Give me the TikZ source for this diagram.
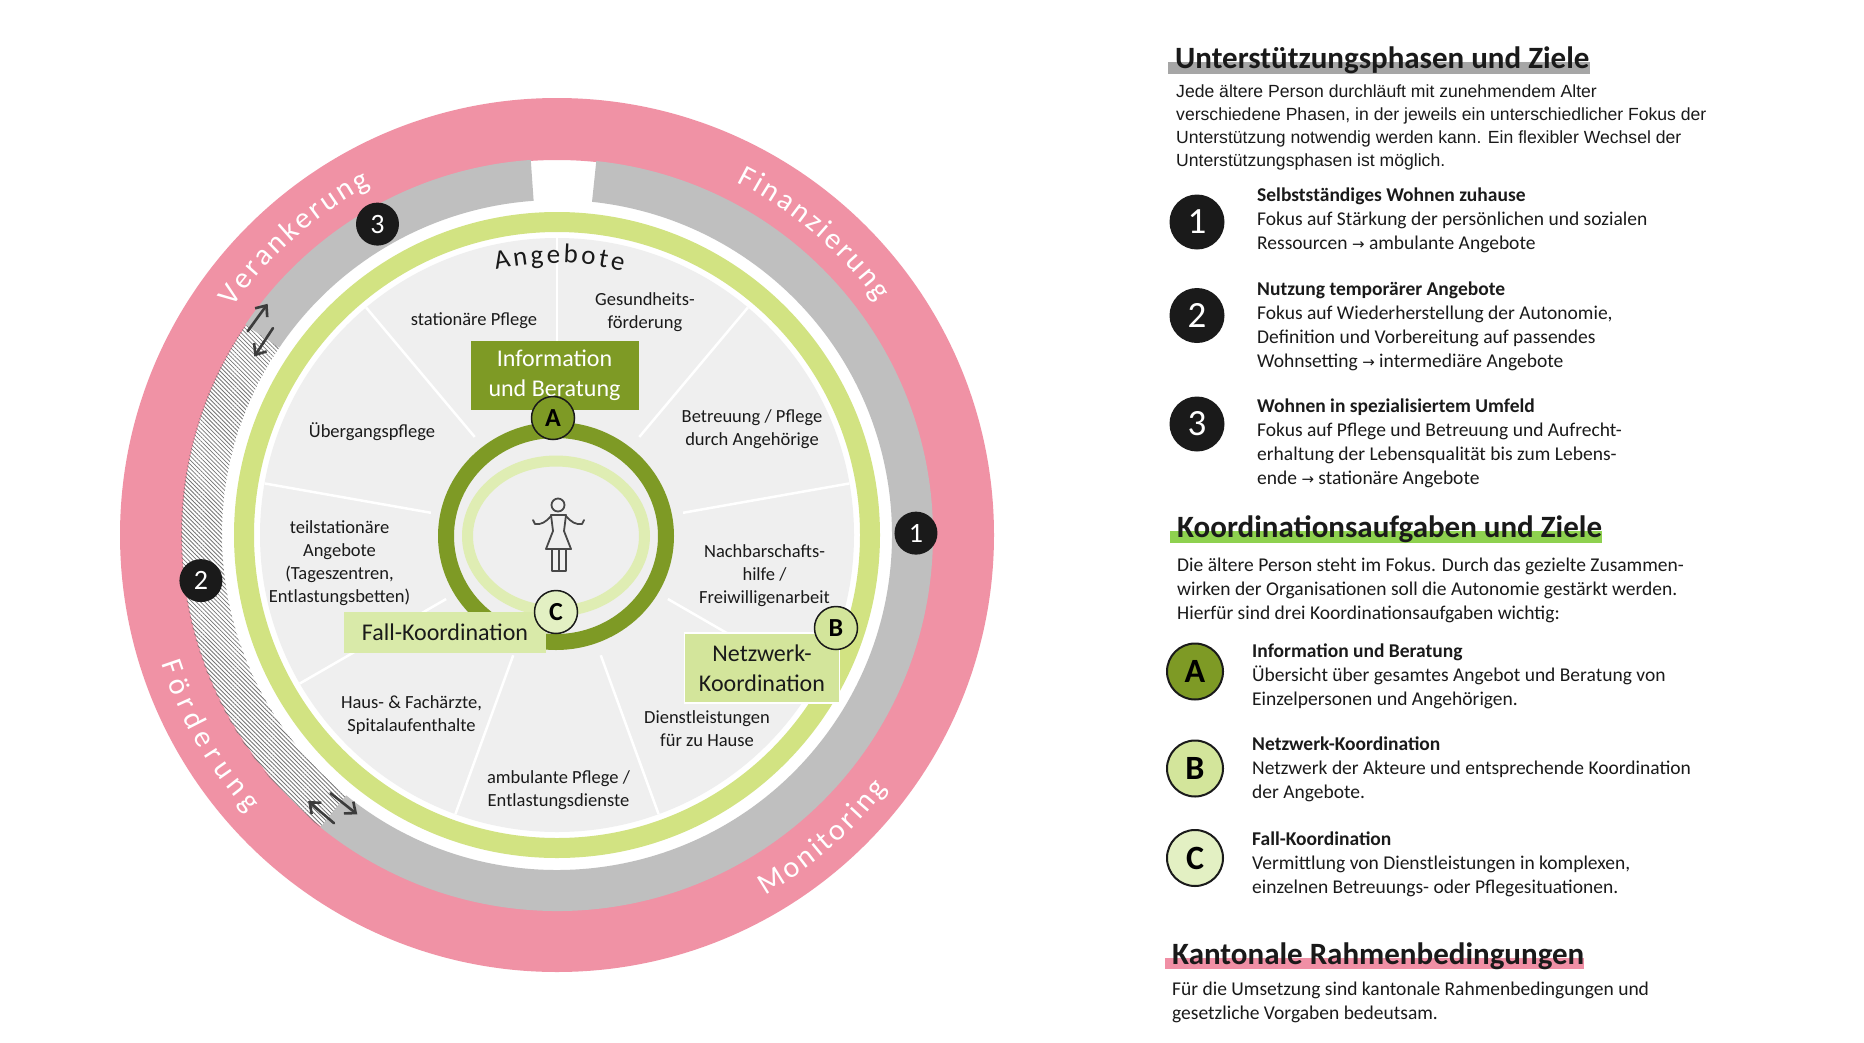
\documentclass[tikz,border=0pt]{standalone}
\usepackage{fontspec}
\setmainfont{Carlito}
\newfontfamily\arialf{Liberation Sans}
\newfontfamily\dejavuf{DejaVu Sans}
\usetikzlibrary{calc,decorations.text,patterns.meta,arrows.meta}
\pgfdeclarelayer{bg}
\pgfsetlayers{bg,main}
\definecolor{pinkC}{HTML}{F092A5}
\definecolor{bandC}{HTML}{BFBFBF}
\definecolor{ringC}{HTML}{D2E382}
\definecolor{oliveC}{HTML}{7E9A25}
\definecolor{ellC}{HTML}{DFEDB3}
\definecolor{diskC}{HTML}{EFEFEF}
\definecolor{fallC}{HTML}{D9EAA9}
\definecolor{netzC}{HTML}{D3E59B}
\definecolor{cC}{HTML}{E3F0C3}
\definecolor{barGray}{HTML}{A6A6A6}
\definecolor{barGreen}{HTML}{8ED14F}
\definecolor{barPink}{HTML}{F08FA5}
\definecolor{inkC}{HTML}{1A1A1A}
\newcommand\annsec[5]{\fill[#1] ($(c)+(#2:#5)$) arc[start angle=#2,end angle=#3,radius=#5] -- ($(c)+(#3:#4)$) arc[start angle=#3,end angle=#2,radius=#4] -- cycle;}
\newcommand\arrowr{{\dejavuf\fontsize{15}{15}\selectfont →}}
\newcommand\bodyf{\fontsize{19.5}{24}\selectfont}
\newcommand\ringfont{\fontsize{30}{30}\selectfont\color{white}}
\newcommand\angfont{\fontsize{27}{27}\selectfont\color{inkC}}
\tikzset{
 sector/.style={font=\fontsize{18.5}{23}\selectfont, align=center, inner sep=0, text=inkC},
 numdot/.style={circle, fill=inkC, text=white, minimum size=43, inner sep=0, font=\fontsize{28}{28}\selectfont},
 letdot/.style={circle, draw=inkC, line width=1.5, minimum size=43, inner sep=0, font=\bfseries\fontsize{26}{26}\selectfont},
 bignum/.style={circle, fill=inkC, text=white, minimum size=55, inner sep=0, font=\fontsize{37}{37}\selectfont},
 biglet/.style={circle, draw=inkC, line width=2, minimum size=56, inner sep=0, font=\bfseries\fontsize{34}{34}\selectfont},
 swaparrow/.style={draw=inkC!85, line width=2.6, line cap=round, -{Straight Barb[length=9pt,width=15pt,line width=2.6pt]}},
 person/.style={draw=inkC!80, line width=1.8, line join=round, line cap=round},
 txt/.style={anchor=base west, inner sep=0, text=inkC},
 boxlbl/.style={inner sep=0, align=center, font=\fontsize{24}{30}\selectfont},
 headf/.style={txt, font=\bfseries\fontsize{31}{36}\selectfont},
 bodyn/.style={txt, font=\bodyf}
}
\begin{document}
\begin{tikzpicture}[x=1pt,y=1pt]
\useasboundingbox (0,0) rectangle (1864,-1042);
\begin{pgfonlayer}{bg}
\fill[white] (0,0) rectangle (1864,-1042);
\end{pgfonlayer}
\coordinate (c) at (557,-535);
\coordinate (ci) at (556,-536);
% outer pink ring
\draw[pinkC, line width=62] (c) circle[radius=406];
% grey band with hatched part
\annsec{bandC}{84}{-129}{335}{376}
\annsec{bandC}{146}{94}{335}{376}
\annsec{pattern={Lines[angle=-45,distance=3pt,line width=0.8pt]},pattern color=inkC!60}{146}{231}{335}{376}
% green ring and disk
\draw[ringC, line width=20] (c) circle[radius=313];
\fill[diskC] (c) circle[radius=297];
\foreach \a in {10,50,...,330}
  \draw[white, line width=2.5] ($(c)+(\a:128)$) -- ($(c)+(\a:297)$);
% inner rings
\draw[ellC, line width=11] (ci) ellipse[x radius=88.5, y radius=75];
\draw[oliveC, line width=16] (ci) ellipse[x radius=110, y radius=106];
% sector labels
\node[sector] (s1) at (474,-321) {station\"are Pflege};
\node[sector] (s2) at (645,-312) {Gesundheits-\\f\"orderung};
\node[sector] (s3) at (372,-432) {\"Ubergangspflege};
\node[sector] (s4) at (752,-429) {Betreuung / Pflege\\durch Angeh\"orige};
\node[sector] (s5) at (339.5,-563) {teilstation\"are\\Angebote\\(Tageszentren,\\Entlastungsbetten)};
\node[sector] (s6) at (764.5,-576) {Nachbarschafts-\\hilfe /\\Freiwilligenarbeit};
\node[sector] (s7) at (411.5,-715) {Haus- \& Fach\"arzte,\\Spitalaufenthalte};
\node[sector] (s8) at (707,-729) {Dienstleistungen\\f\"ur zu Hause};
\node[sector] (s9) at (558.5,-790) {ambulante Pflege /\\Entlastungsdienste};
\path[decorate, decoration={text along path, text align=fit to path, text={|\angfont|Angebote}}]
  ($(c)+(103:272)$) arc[start angle=103, end angle=76, radius=272];
% boxes
\node[boxlbl, fill=oliveC, text=white, minimum width=168, minimum height=69] (ib) at (554.5,-375) {Information\\und Beratung};
\node[boxlbl, fill=fallC, text=inkC, minimum width=202, minimum height=41] (fk) at (445,-632.5) {Fall-Koordination};
\node[boxlbl, fill=netzC, draw=white, line width=1.2, text=inkC, minimum width=155, minimum height=70] (nk) at (762,-668) {Netzwerk-\\Koordination};
\node[letdot, fill=oliveC] (la) at (553,-418) {A};
\node[letdot, fill=cC] (lc) at (556,-612) {C};
\node[letdot, fill=netzC] (lb) at (836,-628) {B};
% person
\draw[person] (558,-505) circle[radius=6.5];
\draw[person] (551,-515) -- (566,-515) -- (564,-531) -- (571,-549) -- (546,-549) -- (553,-531) -- cycle;
\draw[person] (551,-516) .. controls (546,-522) and (541,-525) .. (535,-524) -- (533,-520);
\draw[person] (566,-516) .. controls (571,-522) and (576,-525) .. (582,-524) -- (584,-520);
\draw[person] (552,-549) rectangle (566,-571);
\draw[person] (559,-549) -- (559,-571);
% phase numbers on the band
\node[numdot] (n1) at ($(c)+(0.3:359)$) {1};
\node[numdot] (n2) at ($(c)+(187.3:359)$) {2};
\node[numdot] (n3) at ($(c)+(120:359)$) {3};
% swap arrows
\coordinate (ua) at ($(c)+(144:370)$);
\coordinate (ub) at ($(c)+(146.7:351)$);
\coordinate (la1) at ($(c)+(229.6:364)$);
\coordinate (lb1) at ($(c)+(231.6:343)$);
\draw[swaparrow] ($(ua)+(234:17)$) -- ($(ua)+(54:17)$);
\draw[swaparrow] ($(ub)+(56.7:17)$) -- ($(ub)+(236.7:17)$);
\draw[swaparrow] ($(la1)+(319.6:17)$) -- ($(la1)+(139.6:17)$);
\draw[swaparrow] ($(lb1)+(141.6:17)$) -- ($(lb1)+(321.6:17)$);
% ring labels
\path[decorate, decoration={text along path, text align=fit to path, text={|\ringfont|Verankerung}}]
  ($(c)+(145:396)$) arc[start angle=145, end angle=118, radius=396];
\path[decorate, decoration={text along path, text align=fit to path, text={|\ringfont|Finanzierung}}]
  ($(c)+(63:396)$) arc[start angle=63, end angle=36, radius=396];
\path[decorate, decoration={text along path, text align=fit to path, text={|\ringfont|Förderung}}]
  ($(c)+(198:416)$) arc[start angle=198, end angle=222, radius=416];
\path[decorate, decoration={text along path, text align=fit to path, text={|\ringfont|Monitoring}}]
  ($(c)+(300:416)$) arc[start angle=300, end angle=322.5, radius=416];
% ---------- right panel ----------
\node[headf] (h1) at (1175,-68) {Unterstützungsphasen und Ziele};
\node[txt, font=\arialf\fontsize{17.6}{23}\selectfont] (p1) at (1176,-97) {\begin{tabular}[t]{@{}l@{}}Jede ältere Person durchläuft mit zunehmendem Alter\\verschiedene Phasen, in der jeweils ein unterschiedlicher Fokus der\\Unterstützung notwendig werden kann. Ein flexibler Wechsel der\\Unterstützungsphasen ist möglich.\end{tabular}};
\node[bignum] (k1) at (1197,-222) {1};
\node[bignum] (k2) at (1197,-315.5) {2};
\node[bignum] (k3) at (1197,-424) {3};
\node[bodyn] (i1) at (1257,-201) {\begin{tabular}[t]{@{}l@{}}\textbf{Selbstständiges Wohnen zuhause}\\Fokus auf Stärkung der persönlichen und sozialen\\Ressourcen \arrowr{} ambulante Angebote\end{tabular}};
\node[bodyn] (i2) at (1257,-295.5) {\begin{tabular}[t]{@{}l@{}}\textbf{Nutzung temporärer Angebote}\\Fokus auf Wiederherstellung der Autonomie,\\Definition und Vorbereitung auf passendes\\Wohnsetting \arrowr{} intermediäre Angebote\end{tabular}};
\node[bodyn] (i3) at (1257,-412.5) {\begin{tabular}[t]{@{}l@{}}\textbf{Wohnen in spezialisiertem Umfeld}\\Fokus auf Pflege und Betreuung und Aufrecht-\\erhaltung der Lebensqualität bis zum Lebens-\\ende \arrowr{} stationäre Angebote\end{tabular}};
\node[headf] (h2) at (1177,-537) {Koordinationsaufgaben und Ziele};
\node[bodyn] (p2) at (1177,-571.5) {\begin{tabular}[t]{@{}l@{}}Die ältere Person steht im Fokus. Durch das gezielte Zusammen-\\wirken der Organisationen soll die Autonomie gestärkt werden.\\Hierfür sind drei Koordinationsaufgaben wichtig:\end{tabular}};
\node[biglet, fill=oliveC] (ka) at (1195,-671.5) {A};
\node[biglet, fill=netzC] (kb) at (1195,-768.5) {B};
\node[biglet, fill=cC] (kc) at (1195,-858) {C};
\node[bodyn] (ia) at (1252,-657.5) {\begin{tabular}[t]{@{}l@{}}\textbf{Information und Beratung}\\Übersicht über gesamtes Angebot und Beratung von\\Einzelpersonen und Angehörigen.\end{tabular}};
\node[bodyn] (ibx) at (1252,-750.5) {\begin{tabular}[t]{@{}l@{}}\textbf{Netzwerk-Koordination}\\Netzwerk der Akteure und entsprechende Koordination\\der Angebote.\end{tabular}};
\node[bodyn] (ic) at (1252,-845) {\begin{tabular}[t]{@{}l@{}}\textbf{Fall-Koordination}\\Vermittlung von Dienstleistungen in komplexen,\\einzelnen Betreuungs- oder Pflegesituationen.\end{tabular}};
\node[headf] (h3) at (1172,-964) {Kantonale Rahmenbedingungen};
\node[bodyn] (p3) at (1172,-995.5) {\begin{tabular}[t]{@{}l@{}}Für die Umsetzung sind kantonale Rahmenbedingungen und\\gesetzliche Vorgaben bedeutsam.\end{tabular}};
\begin{pgfonlayer}{bg}
\fill[barGray] ($(h1.base west)+(-7,-6)$) rectangle ($(h1.base east)+(0,6)$);
\fill[barGreen] ($(h2.base west)+(-7,-6)$) rectangle ($(h2.base east)+(0,6)$);
\fill[barPink] ($(h3.base west)+(-7,-5)$) rectangle ($(h3.base east)+(0,6)$);
\end{pgfonlayer}
\end{tikzpicture}
\end{document}
